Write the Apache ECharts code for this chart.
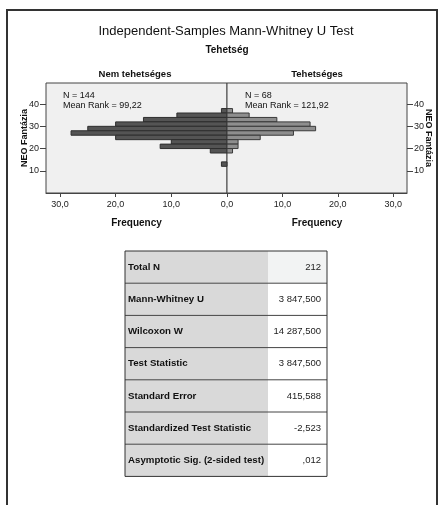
<!DOCTYPE html>
<html>
<head>
<meta charset="utf-8">
<script src="https://cdn.jsdelivr.net/npm/echarts@6/dist/echarts.min.js"></script>
<style>
  html, body { margin: 0; padding: 0; background: #ffffff; }
  #chart { width: 441px; height: 505px; }
</style>
</head>
<body>
<div id="chart"></div>
<script>
// Histogram bins of NEO Fantázia (lower edge of each bin, width 2)
const binStart = [36, 34, 32, 30, 28, 26, 24, 22, 20, 18, 12];
const binWidth = 2;
// Frequencies per group
const nemCounts = [1, 9, 15, 20, 25, 28, 20, 10, 12, 3, 1];
const tehCounts = [1, 4, 9, 15, 16, 12, 6, 2, 2, 1, 0];

const groupNames = ['Nem tehetséges', 'Tehetséges'];
const groupN = [144, 68];
const meanRanks = ['99,22', '121,92'];

const freqTicks = [0, 10, 20, 30];
const scoreTicks = [10, 20, 30, 40];

// Summary table
const tableLabels = ['Total N', 'Mann-Whitney U', 'Wilcoxon W', 'Test Statistic',
  'Standard Error', 'Standardized Test Statistic', 'Asymptotic Sig. (2-sided test)'];
const tableValues = ['212', '3 847,500', '14 287,500', '3 847,500', '415,588', '-2,523', ',012'];

const FONT = '"Liberation Sans", Arial, sans-serif';

function toData(counts) {
  return binStart.map((s, i) => [s, s + binWidth, counts[i]]).filter(d => d[2] > 0);
}

function barRender(params, api) {
  const lo = api.value(0), hi = api.value(1), c = api.value(2);
  const a = api.coord([0, lo]);
  const b = api.coord([c, hi]);
  return {
    type: 'rect',
    shape: { x: Math.min(a[0], b[0]), y: b[1], width: Math.abs(b[0] - a[0]), height: a[1] - b[1] },
    style: api.style()
  };
}

const fmtFreq = v => v.toFixed(1).replace('.', ',');

function xAxisFor(idx) {
  return {
    type: 'value', gridIndex: idx, min: 0, max: 32.5, inverse: idx === 0,
    name: 'Frequency', nameLocation: 'middle', nameGap: 25,
    nameTextStyle: { fontFamily: FONT, fontWeight: 'bold', fontSize: 10, color: '#111' },
    axisLine: { show: true, onZero: false, lineStyle: { color: '#444', width: 1 } },
    axisTick: { show: true, length: 4, lineStyle: { color: '#444' },
      customValues: idx === 0 ? freqTicks : freqTicks.slice(1) },
    axisLabel: { fontFamily: FONT, fontSize: 9, color: '#222', margin: 7,
      customValues: idx === 0 ? freqTicks : freqTicks.slice(1), formatter: fmtFreq },
    splitLine: { show: false }
  };
}

function yAxisFor(idx) {
  return {
    type: 'value', gridIndex: idx, min: 0, max: 49.5,
    position: idx === 0 ? 'left' : 'right',
    name: 'NEO Fantázia', nameLocation: 'middle', nameGap: 17, nameMoveOverlap: false,
    nameRotate: idx === 0 ? 90 : -90,
    nameTextStyle: { fontFamily: FONT, fontWeight: 'bold', fontSize: 9, color: '#111' },
    axisLine: { show: false, onZero: false },
    axisTick: { show: true, length: 6, lineStyle: { color: '#444' }, customValues: scoreTicks },
    axisLabel: { fontFamily: FONT, fontSize: 9, color: '#222', margin: 7, customValues: scoreTicks },
    splitLine: { show: false }
  };
}

// Table geometry
const tblX = 125, tblY = 251, tblW = 202, rowH = 32.2, labelW = 143;
const tableGraphics = [];
tableLabels.forEach((lab, i) => {
  const y = tblY + i * rowH;
  tableGraphics.push({ type: 'rect', shape: { x: tblX, y: y, width: labelW, height: rowH },
    style: { fill: '#d9d9d9' }, silent: true });
  tableGraphics.push({ type: 'rect', shape: { x: tblX + labelW, y: y, width: tblW - labelW, height: rowH },
    style: { fill: i === 0 ? '#f2f3f3' : '#ffffff' }, silent: true });
  tableGraphics.push({ type: 'text', x: tblX + 3, y: y + rowH / 2,
    style: { text: lab, fontFamily: FONT, fontWeight: 'bold', fontSize: 9.7, fill: '#111',
      textVerticalAlign: 'middle', verticalAlign: 'middle' } });
  tableGraphics.push({ type: 'text', x: tblX + tblW - 6, y: y + rowH / 2,
    style: { text: tableValues[i], fontFamily: FONT, fontSize: 9.5, fill: '#222',
      align: 'right', textAlign: 'right', verticalAlign: 'middle', textVerticalAlign: 'middle' } });
  if (i > 0) {
    tableGraphics.push({ type: 'line', shape: { x1: tblX, y1: y, x2: tblX + tblW, y2: y },
      style: { stroke: '#444', lineWidth: 1 } });
  }
});
tableGraphics.push({ type: 'rect', shape: { x: tblX, y: tblY, width: tblW, height: rowH * tableLabels.length },
  style: { fill: 'none', stroke: '#333', lineWidth: 1 } });

const chart = echarts.init(document.getElementById('chart'), null, { renderer: 'canvas' });
chart.setOption({
  backgroundColor: '#ffffff',
  animation: false,
  title: [
    { text: 'Independent-Samples Mann-Whitney U Test', left: 221, top: 20, textAlign: 'center',
      textStyle: { fontFamily: FONT, fontSize: 13, fontWeight: 'normal', color: '#111' } },
    { text: 'Tehetség', left: 222, top: 40, textAlign: 'center',
      textStyle: { fontFamily: FONT, fontSize: 10, fontWeight: 'bold', color: '#111' } },
    { text: groupNames[0], left: 130, top: 64, textAlign: 'center',
      textStyle: { fontFamily: FONT, fontSize: 9.5, fontWeight: 'bold', color: '#111' } },
    { text: groupNames[1], left: 312, top: 64, textAlign: 'center',
      textStyle: { fontFamily: FONT, fontSize: 9.5, fontWeight: 'bold', color: '#111' } }
  ],
  grid: [
    { left: 46, top: 83, width: 181, height: 110, show: true, backgroundColor: '#f0f0f0',
      borderColor: '#444', borderWidth: 1 },
    { left: 227, top: 83, width: 180, height: 110, show: true, backgroundColor: '#f0f0f0',
      borderColor: '#444', borderWidth: 1 }
  ],
  xAxis: [xAxisFor(0), xAxisFor(1)],
  yAxis: [yAxisFor(0), yAxisFor(1)],
  series: [
    { type: 'custom', name: groupNames[0], xAxisIndex: 0, yAxisIndex: 0,
      renderItem: barRender, encode: { x: 2, y: [0, 1] },
      itemStyle: { color: '#545454', borderColor: '#2e2e2e', borderWidth: 1 },
      data: toData(nemCounts) },
    { type: 'custom', name: groupNames[1], xAxisIndex: 1, yAxisIndex: 1,
      renderItem: barRender, encode: { x: 2, y: [0, 1] },
      itemStyle: { color: '#8e8e8e', borderColor: '#3a3a3a', borderWidth: 1 },
      data: toData(tehCounts) }
  ],
  graphic: [
    { type: 'rect', shape: { x: 7, y: 10, width: 430, height: 620 },
      style: { fill: 'none', stroke: '#333', lineWidth: 2 }, silent: true },
    { type: 'text', x: 63, y: 91, style: { text: 'N = ' + groupN[0] + '\nMean Rank = ' + meanRanks[0],
      fontFamily: FONT, fontSize: 9, fill: '#111', lineHeight: 9.5 } },
    { type: 'text', x: 245, y: 91, style: { text: 'N = ' + groupN[1] + '\nMean Rank = ' + meanRanks[1],
      fontFamily: FONT, fontSize: 9, fill: '#111', lineHeight: 9.5 } }
  ].concat(tableGraphics)
});
</script>
</body>
</html>
